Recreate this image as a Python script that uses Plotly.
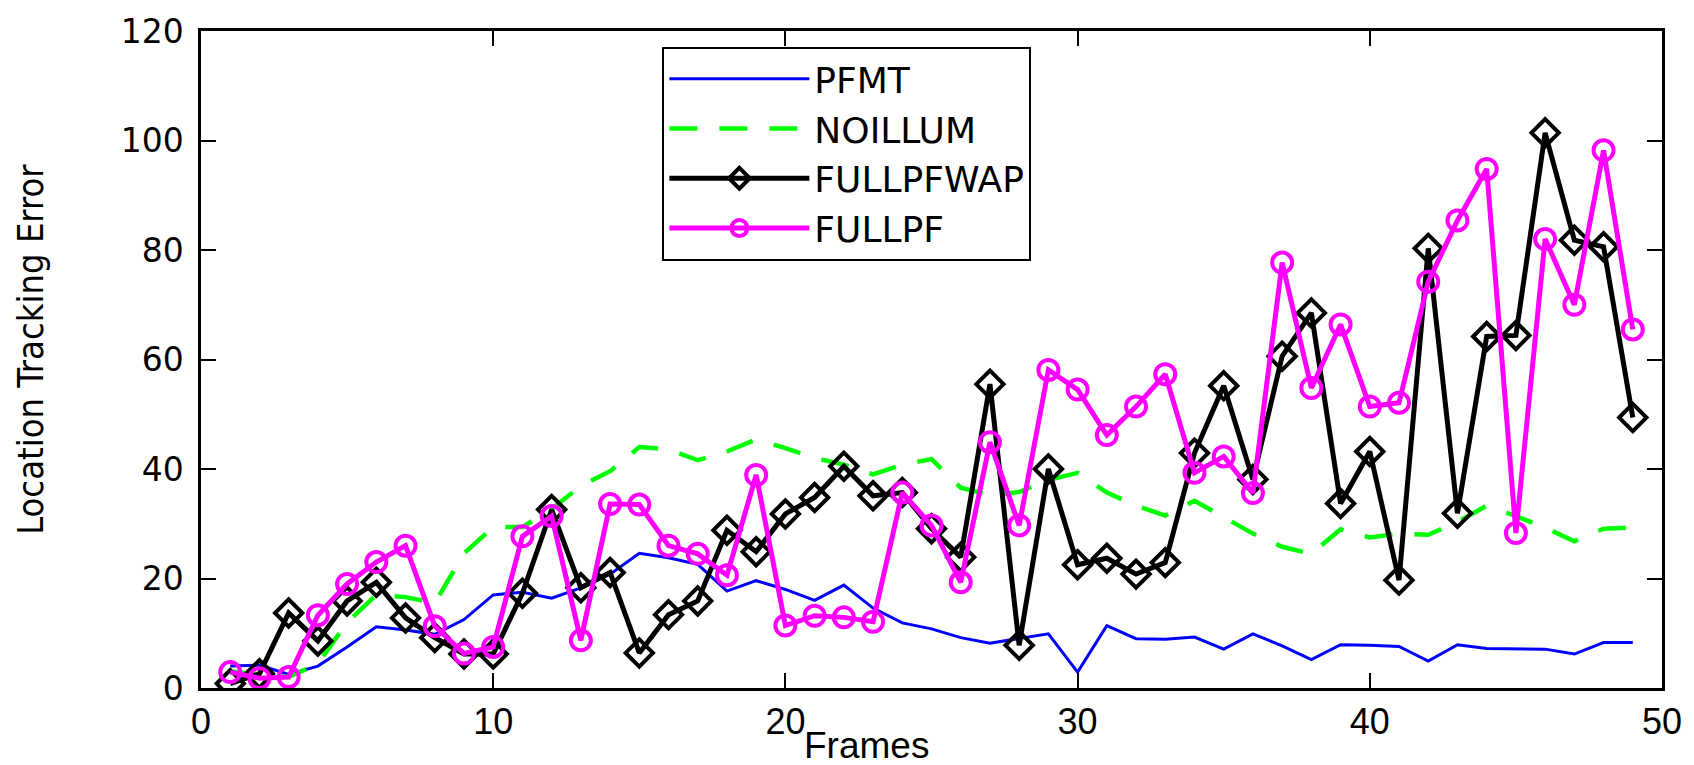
import plotly.graph_objects as go

frames = list(range(1, 50))

pfmt = [4.0, 4.2, 2.5, 4.0, 7.5, 11.2, 10.6, 9.8, 12.5, 17.0,
        17.5, 16.4, 18.3, 20.8, 24.6, 23.8, 22.6, 17.7, 19.6, 18.0,
        16.0, 18.8, 14.6, 11.9, 10.8, 9.2, 8.2, 9.0, 9.9, 2.9,
        11.4, 9.0, 8.9, 9.3, 7.1, 9.9, 7.7, 5.2, 7.9, 7.8,
        7.6, 4.9, 7.9, 7.2, 7.2, 7.1, 6.2, 8.3, 8.3]

noillum = [3.0, 2.5, 2.0, 4.4, 12.0, 17.0, 16.6, 15.5, 24.6, 29.4,
           29.4, 32.7, 36.9, 39.6, 44.0, 43.6, 41.6, 43.2, 45.4, 43.8,
           42.0, 40.8, 39.0, 40.8, 41.8, 36.6, 35.2, 35.8, 38.0, 39.3,
           35.7, 33.3, 31.5, 34.2, 31.2, 28.2, 25.8, 24.5, 29.0, 27.5,
           28.2, 28.0, 30.3, 33.3, 31.4, 29.3, 26.8, 29.1, 29.3]

fullpfwap = [0.8, 2.6, 13.7, 8.6, 15.9, 19.3, 12.8, 9.2, 6.2, 6.2,
             17.3, 32.6, 18.3, 21.1, 6.4, 13.4, 15.9, 28.8, 24.9, 31.8,
             34.8, 40.5, 35.1, 35.7, 29.1, 23.9, 55.5, 7.8, 40.0, 22.5,
             23.7, 20.8, 22.9, 42.9, 55.2, 38.1, 60.6, 68.5, 33.7, 43.2,
             19.7, 80.3, 31.9, 64.2, 64.4, 101.4, 81.8, 80.6, 49.4]

fullpf = [2.9, 1.8, 2.0, 13.3, 19.0, 23.0, 26.0, 11.3, 6.3, 7.5,
          27.7, 31.4, 8.7, 33.6, 33.5, 26.0, 24.5, 20.6, 38.9, 11.4,
          13.2, 12.9, 12.1, 35.7, 29.7, 19.3, 44.9, 29.7, 58.1, 54.5,
          46.2, 51.4, 57.3, 39.3, 42.3, 35.6, 77.7, 54.8, 66.4, 51.4,
          52.1, 74.2, 85.4, 94.8, 28.3, 82.0, 70.0, 98.2, 65.5]

x_ticks = [0, 10, 20, 30, 40, 50]
y_ticks = [0, 20, 40, 60, 80, 100, 120]

fig = go.Figure()
fig.add_trace(go.Scatter(x=frames, y=pfmt, name="PFMT", mode="lines",
                         line=dict(color="#0000FF", width=3)))
fig.add_trace(go.Scatter(x=frames, y=noillum, name="NOILLUM", mode="lines",
                         line=dict(color="#00FF00", width=4.5, dash="28px,22px")))
fig.add_trace(go.Scatter(x=frames, y=fullpfwap, name="FULLPFWAP", mode="lines+markers",
                         line=dict(color="#000000", width=5),
                         marker=dict(symbol="diamond-open", size=21, color="#000000",
                                     line=dict(width=4, color="#000000"))))
fig.add_trace(go.Scatter(x=frames, y=fullpf, name="FULLPF", mode="lines+markers",
                         line=dict(color="#FF00FF", width=5),
                         marker=dict(symbol="circle-open", size=20, color="#FF00FF",
                                     line=dict(width=4, color="#FF00FF"))))

axis_common = dict(showline=True, linecolor="black", linewidth=2.5, mirror="ticks",
                   ticks="inside", ticklen=15, tickwidth=2, tickcolor="black",
                   showgrid=False, zeroline=False)

fig.update_xaxes(range=[0, 50], tickvals=x_ticks,
                 tickfont=dict(family="Liberation Sans, Arial", size=36, color="black"),
                 **axis_common)
fig.update_yaxes(range=[0, 120], tickvals=y_ticks, ticklabelstandoff=8,
                 tickfont=dict(family="DejaVu Sans, Liberation Sans", size=33, color="black"),
                 **axis_common)

fig.add_annotation(text="Frames", xref="paper", yref="paper", x=(867 - 201) / 1463, y=0,
                   yshift=-57, xanchor="center", yanchor="middle", showarrow=False,
                   font=dict(family="Liberation Sans, Arial", size=37, color="black"))
fig.add_annotation(text="Location Tracking Error", xref="paper", yref="paper",
                   x=(30 - 201) / 1463, y=(688 - 345) / 666, textangle=-90,
                   xanchor="center", yanchor="middle", showarrow=False,
                   font=dict(family="Liberation Sans Narrow, DejaVu Sans Condensed, Liberation Sans",
                             size=36, color="black"))

fig.update_layout(
    width=1694, height=765,
    margin=dict(l=201, r=30, t=22, b=77),
    paper_bgcolor="white", plot_bgcolor="white",
    showlegend=True,
    legend=dict(x=(663 - 201) / 1463, y=(688 - 38) / 666, xanchor="left", yanchor="top",
                bgcolor="white", bordercolor="black", borderwidth=2,
                font=dict(family="DejaVu Sans, Liberation Sans", size=36, color="black"),
                itemwidth=140, tracegroupgap=0),
)

fig.write_html("out.html", config={"displayModeBar": False},
               post_script="document.body.style.margin='0';")
